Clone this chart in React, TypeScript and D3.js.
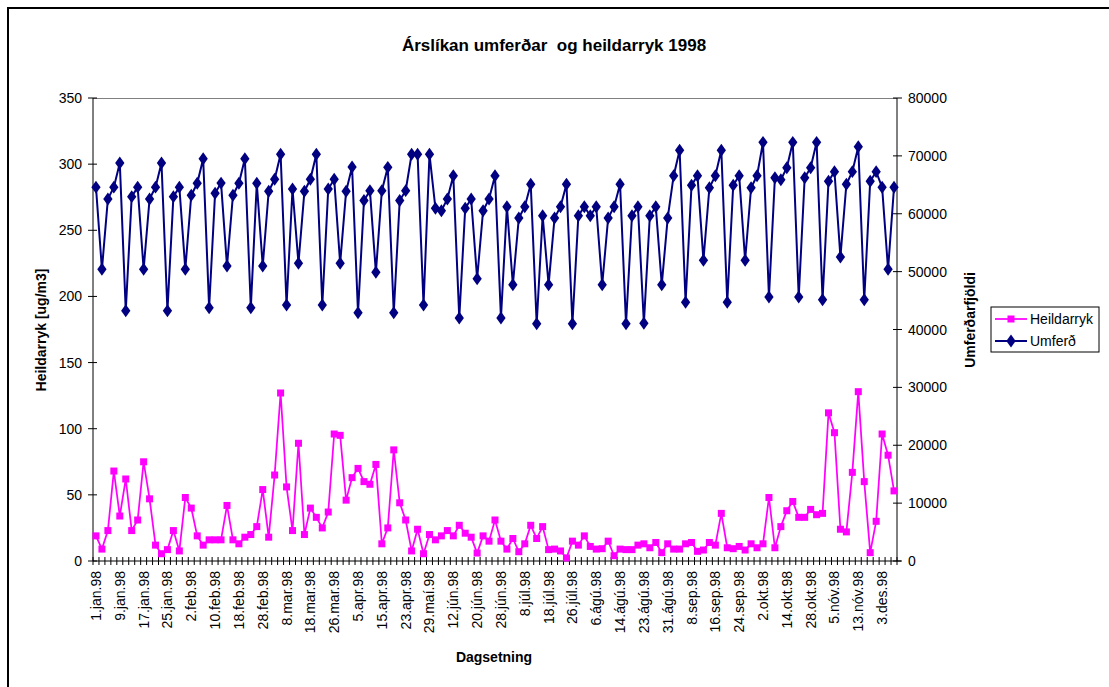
import { useEffect, useRef } from 'react'
import * as d3 from 'd3'

// Tick labels shown on every 4th category
const tickLabels = [
  '1.jan.98', '9.jan.98', '17.jan.98', '25.jan.98', '2.feb.98', '10.feb.98', '18.feb.98', '28.feb.98',
  '8.mar.98', '18.mar.98', '26.mar.98', '5.apr.98', '15.apr.98', '23.apr.98', '29.maí.98', '12.jún.98',
  '20.jún.98', '28.jún.98', '8.júl.98', '18.júl.98', '26.júl.98', '6.ágú.98', '14.ágú.98', '23.ágú.98',
  '31.ágú.98', '8.sep.98', '16.sep.98', '24.sep.98', '2.okt.98', '14.okt.98', '28.okt.98', '5.nóv.98',
  '13.nóv.98', '3.des.98',
]
const labelEvery = 4

// Heildarryk [ug/m3] (left axis)
const heildarryk = [
  19, 9, 23, 68, 34, 62, 23, 31, 75, 47, 12, 5.5, 8.6, 23, 7.6, 48, 40, 19, 12, 16,
  16, 16, 42, 16, 13, 18, 20, 26, 54, 18, 65, 127, 56, 23, 89, 20, 40, 33, 25, 37,
  96, 95, 46, 63, 70, 60, 58, 73, 13, 25, 84, 44, 31, 7.6, 24, 5.5, 20, 16, 19, 23,
  19, 27, 21, 18, 6, 19, 15, 31, 15, 9, 17, 7, 13, 27, 17, 26, 8.6, 9, 7.6, 2.3,
  15, 12, 19, 11, 9, 9.3, 15, 4, 9, 8.6, 8.6, 12, 13, 10, 14, 6.3, 13, 9, 9, 13,
  14, 7.3, 8.3, 14, 12, 36, 10, 9.3, 11, 8.3, 13, 10, 13, 48, 10, 26, 38, 45, 33, 33,
  39, 35, 36, 112, 97, 24, 22, 67, 128, 60, 6.3, 30, 96, 80, 53,
]

// Umferð (right axis)
const umferd = [
  64600, 50400, 62550, 64600, 68770, 43250, 62950, 64600, 50400, 62550,
  64600, 68770, 43250, 62950, 64600, 50400, 63190, 65260, 69510, 43770,
  63530, 65300, 50970, 63190, 65260, 69510, 43770, 65260, 50970, 63880,
  65950, 70270, 44230, 64280, 51440, 63880, 65950, 70270, 44230, 64280,
  65950, 51440, 63880, 68080, 42900, 62300, 63990, 49880, 63990, 68020,
  42900, 62280, 63990, 70270, 70270, 44230, 70270, 60940, 60530, 62550,
  66570, 41990, 60940, 62550, 48780, 60530, 62550, 66570, 41990, 61220,
  47740, 59270, 61220, 65090, 41000, 59660, 47740, 59270, 61220, 65090,
  41000, 59660, 61220, 59660, 61220, 47740, 59270, 61220, 65090, 41000,
  59660, 61220, 41080, 59660, 61220, 47740, 59270, 66570, 70960, 44700,
  64920, 66570, 51960, 64500, 66570, 70960, 44700, 64920, 66570, 51960,
  64500, 66570, 72340, 45620, 66230, 65880, 67960, 72340, 45620, 66230,
  67960, 72340, 45150, 65610, 67270, 52530, 65090, 67270, 71590, 45150,
  65610, 67270, 64570, 50400, 64570,
]

const leftTicks = [0, 50, 100, 150, 200, 250, 300, 350]
const rightTicks = [0, 10000, 20000, 30000, 40000, 50000, 60000, 70000, 80000]

const FONT = "'Liberation Sans', Arial, sans-serif"
const PINK = '#ff00ff'
const NAVY = '#000080'

export default function App() {
  const svgRef = useRef<SVGSVGElement>(null)

  useEffect(() => {
    if (!svgRef.current) return
    const svg = d3.select(svgRef.current)
    svg.selectAll('*').remove()

    const left = 93, right = 897, top = 98, bottom = 561
    const n = umferd.length

    const x = d3.scaleBand<number>().domain(d3.range(n)).range([left, right]).padding(0)
    const yL = d3.scaleLinear().domain([0, 350]).range([bottom, top])
    const yR = d3.scaleLinear().domain([0, 80000]).range([bottom, top])
    const cx = (i: number) => (x(i) as number) + x.bandwidth() / 2

    // outer chart border
    svg.append('rect')
      .attr('x', 8).attr('y', 8).attr('width', 1300).attr('height', 900)
      .attr('fill', '#fff').attr('stroke', '#000').attr('stroke-width', 2)

    // title
    svg.append('text')
      .attr('x', 554).attr('y', 45)
      .attr('text-anchor', 'middle').attr('dominant-baseline', 'central')
      .attr('font-family', FONT).attr('font-size', 17).attr('font-weight', 'bold')
      .style('white-space', 'pre')
      .text('Árslíkan umferðar  og heildarryk 1998')

    // plot area border (top visible as grey line)
    svg.append('line')
      .attr('x1', left).attr('x2', right).attr('y1', top + 0.5).attr('y2', top + 0.5)
      .attr('stroke', '#808080').attr('stroke-width', 1)

    // left axis
    const gL = svg.append('g')
    gL.append('line').attr('x1', left).attr('x2', left).attr('y1', top).attr('y2', bottom)
      .attr('stroke', '#000')
    gL.selectAll('line.t').data(leftTicks).join('line').attr('class', 't')
      .attr('x1', left - 5).attr('x2', left + 4)
      .attr('y1', d => yL(d)).attr('y2', d => yL(d))
      .attr('stroke', '#000')
    gL.selectAll('text').data(leftTicks).join('text')
      .attr('x', left - 11).attr('y', d => yL(d))
      .attr('text-anchor', 'end').attr('dominant-baseline', 'central')
      .attr('font-family', FONT).attr('font-size', 14)
      .text(d => d)

    // right axis
    const gR = svg.append('g')
    gR.append('line').attr('x1', right).attr('x2', right).attr('y1', top).attr('y2', bottom)
      .attr('stroke', '#000')
    gR.selectAll('line.t').data(rightTicks).join('line').attr('class', 't')
      .attr('x1', right - 4).attr('x2', right + 5)
      .attr('y1', d => yR(d)).attr('y2', d => yR(d))
      .attr('stroke', '#000')
    gR.selectAll('text').data(rightTicks).join('text')
      .attr('x', right + 11).attr('y', d => yR(d))
      .attr('dominant-baseline', 'central')
      .attr('font-family', FONT).attr('font-size', 14)
      .text(d => d)

    // x axis
    const gX = svg.append('g')
    gX.append('line').attr('x1', left).attr('x2', right + 4).attr('y1', bottom).attr('y2', bottom)
      .attr('stroke', '#000')
    gX.selectAll('line.t').data(d3.range(n + 1)).join('line').attr('class', 't')
      .attr('x1', i => left + i * x.step()).attr('x2', i => left + i * x.step())
      .attr('y1', bottom - 4).attr('y2', bottom + 4)
      .attr('stroke', '#000')
    gX.selectAll('text').data(tickLabels).join('text')
      .attr('transform', (_, k) => `translate(${cx(k * labelEvery)},${bottom + 10}) rotate(-90)`)
      .attr('text-anchor', 'end').attr('dominant-baseline', 'central')
      .attr('font-family', FONT).attr('font-size', 14)
      .text(d => d)

    // axis titles
    svg.append('text')
      .attr('transform', `translate(41,330) rotate(-90)`)
      .attr('text-anchor', 'middle').attr('dominant-baseline', 'central')
      .attr('font-family', FONT).attr('font-size', 14).attr('font-weight', 'bold')
      .text('Heildarryk [ug/m3]')
    svg.append('text')
      .attr('transform', `translate(970,320) rotate(-90)`)
      .attr('text-anchor', 'middle').attr('dominant-baseline', 'central')
      .attr('font-family', FONT).attr('font-size', 14).attr('font-weight', 'bold')
      .text('Umferðarfjöldi')
    svg.append('text')
      .attr('x', 494).attr('y', 657)
      .attr('text-anchor', 'middle').attr('dominant-baseline', 'central')
      .attr('font-family', FONT).attr('font-size', 14).attr('font-weight', 'bold')
      .text('Dagsetning')

    // Heildarryk series
    const lineL = d3.line<number>().x((_, i) => cx(i)).y(d => yL(d))
    svg.append('path').datum(heildarryk)
      .attr('d', lineL).attr('fill', 'none').attr('stroke', PINK).attr('stroke-width', 1.75)
    svg.selectAll('rect.pm').data(heildarryk).join('rect').attr('class', 'pm')
      .attr('x', (_, i) => cx(i) - 3.5).attr('y', d => yL(d) - 3.5)
      .attr('width', 7).attr('height', 7).attr('fill', PINK)

    // Umferð series
    const lineR = d3.line<number>().x((_, i) => cx(i)).y(d => yR(d))
    svg.append('path').datum(umferd)
      .attr('d', lineR).attr('fill', 'none').attr('stroke', NAVY).attr('stroke-width', 2)
    const diamond = d3.symbol().type(d3.symbolDiamond).size(48)
    svg.selectAll('path.um').data(umferd).join('path').attr('class', 'um')
      .attr('d', diamond)
      .attr('transform', (d, i) => `translate(${cx(i)},${yR(d)}) scale(1.25,1)`)
      .attr('fill', NAVY)

    // legend
    const lg = svg.append('g').attr('transform', 'translate(991,307)')
    lg.append('rect').attr('width', 108).attr('height', 45)
      .attr('fill', '#fff').attr('stroke', '#000').attr('stroke-width', 1)
    const items = [
      { name: 'Heildarryk', color: PINK, kind: 'square' },
      { name: 'Umferð', color: NAVY, kind: 'diamond' },
    ]
    items.forEach((it, k) => {
      const yy = 12 + k * 22
      lg.append('line').attr('x1', 4).attr('x2', 36).attr('y1', yy).attr('y2', yy)
        .attr('stroke', it.color).attr('stroke-width', it.kind === 'square' ? 1.75 : 2)
      if (it.kind === 'square') {
        lg.append('rect').attr('x', 16.5).attr('y', yy - 3.5).attr('width', 7).attr('height', 7).attr('fill', it.color)
      } else {
        lg.append('path').attr('d', diamond).attr('transform', `translate(20,${yy}) scale(1.25,1)`).attr('fill', it.color)
      }
      lg.append('text').attr('x', 39).attr('y', yy)
        .attr('dominant-baseline', 'central')
        .attr('font-family', FONT).attr('font-size', 14)
        .text(it.name)
    })
  }, [])

  return (
    <svg
      ref={svgRef}
      width={1109}
      height={687}
      style={{ position: 'absolute', left: 0, top: 0, background: '#fff' }}
    />
  )
}
